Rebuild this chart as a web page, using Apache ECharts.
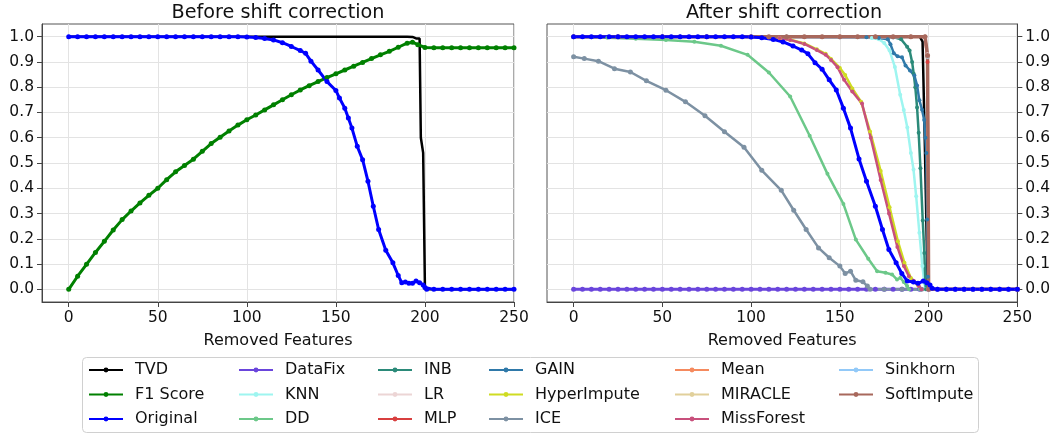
<!DOCTYPE html>
<html><head><meta charset="utf-8">
<script src="https://cdn.jsdelivr.net/npm/echarts@6/dist/echarts.min.js"></script>
<style>html,body{margin:0;padding:0;background:#fff}#c{width:1053px;height:434px}</style>
</head><body><div id="c"></div>
<script>
// ---------- tick labels ----------
const xTicks = [0, 50, 100, 150, 200, 250];
const yTicks = [0, 0.1, 0.2, 0.3, 0.4, 0.5, 0.6, 0.7, 0.8, 0.9, 1.0];
const titles = ['Before shift correction', 'After shift correction'];
const xName = 'Removed Features';

// ---------- left panel: before shift correction ----------
const tvdBefore = [[0,1],[100,1],[190,1],[193,0.999],[195,0.993],[197,0.993],[197.7,0.6],[199,0.54],[200,0],[250,0]];
const f1Score = [[0,0],[5,0.052],[10,0.099],[15,0.146],[20,0.19],[25,0.235],[30,0.276],[35,0.31],[40,0.342],[45,0.372],
  [50,0.4],[55,0.434],[60,0.465],[65,0.49],[70,0.515],[75,0.546],[80,0.577],[85,0.602],[90,0.627],[95,0.65],
  [100,0.671],[105,0.69],[110,0.71],[115,0.73],[120,0.75],[125,0.77],[130,0.789],[135,0.806],[140,0.822],[145,0.838],
  [150,0.853],[155,0.868],[160,0.883],[165,0.898],[170,0.913],[175,0.928],[180,0.942],[185,0.958],[190,0.974],[193,0.978],
  [196,0.968],[200,0.957],[205,0.956],[210,0.956],[215,0.956],[220,0.956],[225,0.956],[230,0.956],[235,0.956],[240,0.956],[245,0.956],[250,0.956]];
const originalBefore = [[0,1],[5,1],[10,1],[15,1],[20,1],[25,1],[30,1],[35,1],[40,1],[45,1],[50,1],[55,1],[60,1],[65,1],[70,1],
  [75,1],[80,1],[85,1],[90,1],[95,1],[100,0.999],[105,0.997],[110,0.993],[115,0.987],[120,0.976],[125,0.961],[130,0.945],
  [133,0.934],[136,0.903],[140,0.868],[145,0.822],[150,0.787],[152,0.757],[155,0.717],[157,0.678],[159,0.638],[162,0.566],
  [165,0.513],[168,0.428],[171,0.329],[174,0.237],[178,0.155],[182,0.105],[185,0.055],[187,0.026],[189,0.029],[191,0.024],
  [193,0.024],[195,0.033],[197,0.026],[199,0.017],[200,0.007],[201,0],[205,0],[210,0],[215,0],[220,0],[225,0],[230,0],
  [235,0],[240,0],[245,0],[250,0]];

// ---------- right panel: after shift correction ----------
const tvdAfter = [[0,1],[100,1],[195,1],[196.6,0.98],[197.6,0.67],[199.5,0],[250,0]];
const dataFix = [[0,0],[5,0],[10,0],[15,0],[20,0],[25,0],[30,0],[35,0],[40,0],[45,0],[50,0],[55,0],[60,0],[65,0],[70,0],
  [75,0],[80,0],[85,0],[90,0],[95,0],[100,0],[105,0],[110,0],[115,0],[120,0],[125,0],[130,0],[135,0],[140,0],[145,0],
  [150,0],[155,0],[160,0],[165,0],[170,0],[175,0],[180,0],[185,0],[190,0],[195,0],[200,0],[205,0],[210,0],[215,0],
  [220,0],[225,0],[230,0],[235,0],[240,0],[245,0],[250,0]];
const knn = [[0,1],[60,1],[120,1],[160,0.998],[168,0.995],[172,0.99],[175,0.975],[178,0.945],[181,0.88],[184,0.77],
  [186,0.71],[188,0.64],[190,0.54],[191.5,0.474],[193,0.368],[194.8,0.224],[196.5,0.092],[197.6,0.026],[198.2,0],[200,0]];
const dd = [[0,1],[10,0.998],[19,0.996],[35,0.992],[52,0.987],[68,0.98],[83,0.964],[98,0.928],[110,0.858],[122,0.763],
  [133,0.608],[143,0.457],[152,0.338],[159,0.197],[166,0.121],[171,0.072],[175.7,0.066],[179.4,0.059],[182.2,0.039],
  [184.1,0.046],[186,0.029],[187.9,0.013],[189,0],[195,0]];
const inb = [[0,1],[60,1],[120,1],[170,1],[180,0.998],[184.5,0.99],[187.9,0.96],[189.3,0.945],[190.7,0.9],[191.6,0.853],
  [192.5,0.8],[193.5,0.72],[194.4,0.62],[195.4,0.479],[196.7,0.272],[197.6,0.144],[198.2,0.026],[198.5,0],[200,0]];
const lr = [[0,1],[50,1],[100,1],[150,1],[190,1],[198,1],[199.4,0.93],[200,0],[250,0]];
const mlp = [[0,1],[50,1],[100,1],[150,1],[190,1],[198,1],[199.4,0.9],[200,0],[250,0]];
const gain = [[0,1],[60,1],[120,1],[165,0.998],[172,0.995],[177,0.99],[178.5,0.97],[180.4,0.934],[182.5,0.922],[185,0.918],
  [187,0.886],[189.5,0.866],[192,0.846],[193.5,0.807],[194.8,0.748],[196.3,0.711],[197.5,0.67],[198.2,0.6],[198.7,0.54],
  [199.2,0.276],[199.6,0.05],[200,0]];
const hyperImpute = [[0,1],[60,1],[100,1],[110,0.998],[116,0.995],[122,0.988],[130,0.973],[137,0.95],[142,0.932],[145,0.912],
  [150,0.876],[153,0.848],[157,0.795],[162,0.742],[167,0.625],[173,0.468],[178,0.325],[182.7,0.19],[186.4,0.105],[190,0.045],
  [194,0.016],[196,0],[200,0]];
const ice = [[0,0.92],[6,0.913],[14,0.903],[23,0.873],[32,0.86],[41,0.825],[52,0.788],[63,0.742],[74,0.687],[85,0.624],
  [96,0.562],[106,0.471],[117,0.392],[124,0.313],[131,0.237],[138,0.164],[144,0.125],[150,0.092],[153,0.063],[156,0.072],
  [159,0.036],[163,0.03],[165.5,0.013],[167,0],[175,0],[185,0],[196,0]];
const meanImp = [[0,1],[50,1],[100,1],[150,1],[190,1],[198,1],[199.4,0.92],[200,0],[250,0]];
const miracle = [[0,1],[50,1],[100,1],[150,1],[190,1],[198,1],[199.4,0.92],[200,0],[250,0]];
const missForest = [[0,1],[60,1],[100,1],[110,0.998],[116,0.995],[122,0.987],[130,0.971],[137,0.947],[142,0.928],[145,0.908],
  [148.7,0.879],[152.4,0.829],[157,0.783],[162.5,0.735],[167.4,0.6],[173,0.433],[177.7,0.3],[182.4,0.168],[186.1,0.092],
  [188.9,0.052],[191.7,0.033],[194.5,0.013],[196,0],[200,0]];
const sinkhorn = [[0,1],[50,1],[100,1],[150,0.997],[180,0.997],[190,1],[198,1],[199.4,0.92],[200,0],[250,0]];
const softImpute = [[0,1],[25,1],[50,1],[75,1],[100,1],[110,1],[120,1],[130,1],[140,1],[150,1],[160,1],[170,1],[180,1],
  [190,1],[198,1],[199.4,0.925],[200,0],[250,0]];
const originalAfter = [[0,1],[5,1],[10,1],[15,1],[20,1],[25,1],[30,1],[35,1],[40,1],[45,1],[50,1],[55,1],[60,1],[65,1],[70,1],
  [75,1],[80,1],[85,1],[90,1],[95,1],[100,0.999],[106,0.996],[112.5,0.989],[118,0.979],[123.6,0.963],[128.5,0.947],[132,0.932],
  [136,0.897],[140,0.871],[144,0.829],[148,0.789],[152,0.717],[156,0.638],[160.8,0.516],[165,0.428],[170,0.329],[174,0.237],
  [177.6,0.158],[181.7,0.105],[184.9,0.063],[188,0.033],[191.5,0.029],[194,0.024],[197,0.033],[199,0.026],[200.8,0.017],
  [202,0.004],[205,0],[210,0],[215,0],[220,0],[225,0],[230,0],[235,0],[240,0],[245,0],[250,0]];

// ---------- styling ----------
const FONT = 'DejaVu Sans';
const C = {
  TVD:'#000000', 'F1 Score':'#008000', Original:'#0000ff', DataFix:'#6a45dc', KNN:'#9ef5f0', DD:'#6cc889',
  INB:'#2b8a79', LR:'#ecd5d5', MLP:'#d83f3f', GAIN:'#2f79a9', HyperImpute:'#cfdc22', ICE:'#7d91a3',
  Mean:'#f58a5e', MIRACLE:'#e1d09b', MissForest:'#c8507c', Sinkhorn:'#92c9f8', SoftImpute:'#a8685c'
};

function ln(name, data, g, opt) {
  opt = opt || {};
  const col = C[name];
  return {
    type: 'line', name: name, xAxisIndex: g, yAxisIndex: g, data: data,
    symbol: opt.noSym ? 'none' : 'circle', symbolSize: opt.size || 4, showSymbol: !opt.noSym,
    lineStyle: { color: col, width: opt.w || 2.5 }, itemStyle: { color: col },
    animation: false, silent: true, emphasis: { disabled: true }, clip: true
  };
}

const grids = [
  { left: 42, top: 24, width: 472, height: 278 },
  { left: 547, top: 24, width: 474, height: 278 }
];

function xAx(i) {
  return {
    type: 'value', gridIndex: i, min: -15, max: 250,
    name: xName, nameLocation: 'middle', nameGap: 31,
    nameTextStyle: { fontFamily: FONT, fontSize: 16, color: '#111' },
    axisLine: { show: true, onZero: false, lineStyle: { color: '#444', width: 1 } },
    axisTick: { show: true, length: 5, customValues: xTicks, lineStyle: { color: '#444' } },
    axisLabel: { customValues: xTicks, margin: 8, fontFamily: FONT, fontSize: 15.5, color: '#111',
      formatter: v => (v >= 0 && Math.abs(v % 50) < 1e-9) ? String(v) : '' },
    splitLine: { show: true, lineStyle: { color: '#e3e3e3', width: 1 } }
  };
}
function yAx(i, pos) {
  return {
    type: 'value', gridIndex: i, min: -0.05, max: 1.05, splitNumber: 11, position: pos,
    axisLine: { show: true, onZero: false, lineStyle: { color: '#444', width: 1 } },
    axisTick: { show: true, length: 5, customValues: yTicks, lineStyle: { color: '#444' } },
    axisLabel: { customValues: yTicks, margin: 8, fontFamily: FONT, fontSize: 15.5, color: '#111',
      formatter: v => (v > -1e-6 && v < 1 + 1e-6 && Math.abs(v * 10 - Math.round(v * 10)) < 1e-6) ? v.toFixed(1) : '' },
    splitLine: { show: true, lineStyle: { color: '#e3e3e3', width: 1 } }
  };
}

const series = [
  ln('TVD', tvdBefore, 0, { noSym: true, w: 2.5 }),
  ln('F1 Score', f1Score, 0, { w: 3, size: 5 }),
  ln('Original', originalBefore, 0, { w: 3, size: 5 }),

  ln('TVD', tvdAfter, 1, { noSym: true, w: 2.5 }),
  ln('DataFix', dataFix, 1, { w: 3, size: 5 }),
  ln('KNN', knn, 1),
  ln('DD', dd, 1),
  ln('INB', inb, 1),
  ln('LR', lr, 1),
  ln('MLP', mlp, 1),
  ln('GAIN', gain, 1),
  ln('HyperImpute', hyperImpute, 1),
  ln('ICE', ice, 1, { w: 2.5, size: 5 }),
  ln('Mean', meanImp, 1),
  ln('MIRACLE', miracle, 1),
  ln('MissForest', missForest, 1),
  ln('Sinkhorn', sinkhorn, 1),
  ln('SoftImpute', softImpute, 1, { w: 3.5, size: 5 }),
  ln('Original', originalAfter, 1, { w: 3, size: 5 })
];

const legendCols = [
  ['TVD', 'F1 Score', 'Original'],
  ['DataFix', 'KNN', 'DD'],
  ['INB', 'LR', 'MLP'],
  ['GAIN', 'HyperImpute', 'ICE'],
  ['Mean', 'MIRACLE', 'MissForest'],
  ['Sinkhorn', 'SoftImpute']
];
const legendLeft = [88, 238, 377, 488, 674, 838];
const legends = legendCols.map((d, i) => ({
  data: d, orient: 'vertical', left: legendLeft[i], top: 361, padding: 0,
  itemWidth: 34, itemHeight: 6, itemGap: 6.5, selectedMode: false,
  textStyle: { fontFamily: FONT, fontSize: 16, color: '#111', lineHeight: 18, padding: [0, 0, 0, 7] }
}));

const chart = echarts.init(document.getElementById('c'), null, { renderer: 'canvas' });
chart.setOption({
  backgroundColor: '#ffffff',
  animation: false,
  grid: grids.map(g => Object.assign({ show: true, borderColor: '#555', borderWidth: 1, backgroundColor: 'transparent' }, g)),
  xAxis: [xAx(0), xAx(1)],
  yAxis: [yAx(0, 'left'), yAx(1, 'right')],
  legend: legends,
  graphic: [
    { type: 'rect', shape: { x: 82.5, y: 357.5, width: 896, height: 75, r: 4 }, style: { fill: '#fff', stroke: '#d0d0d0', lineWidth: 1 }, z: -10, silent: true },
    { type: 'text', x: 278, y: 13.5, style: { text: titles[0], font: '19.2px "DejaVu Sans"', fill: '#111', align: 'center', verticalAlign: 'middle' }, silent: true },
    { type: 'text', x: 784, y: 13.5, style: { text: titles[1], font: '19.2px "DejaVu Sans"', fill: '#111', align: 'center', verticalAlign: 'middle' }, silent: true }
  ],
  series: series
});
</script></body></html>
